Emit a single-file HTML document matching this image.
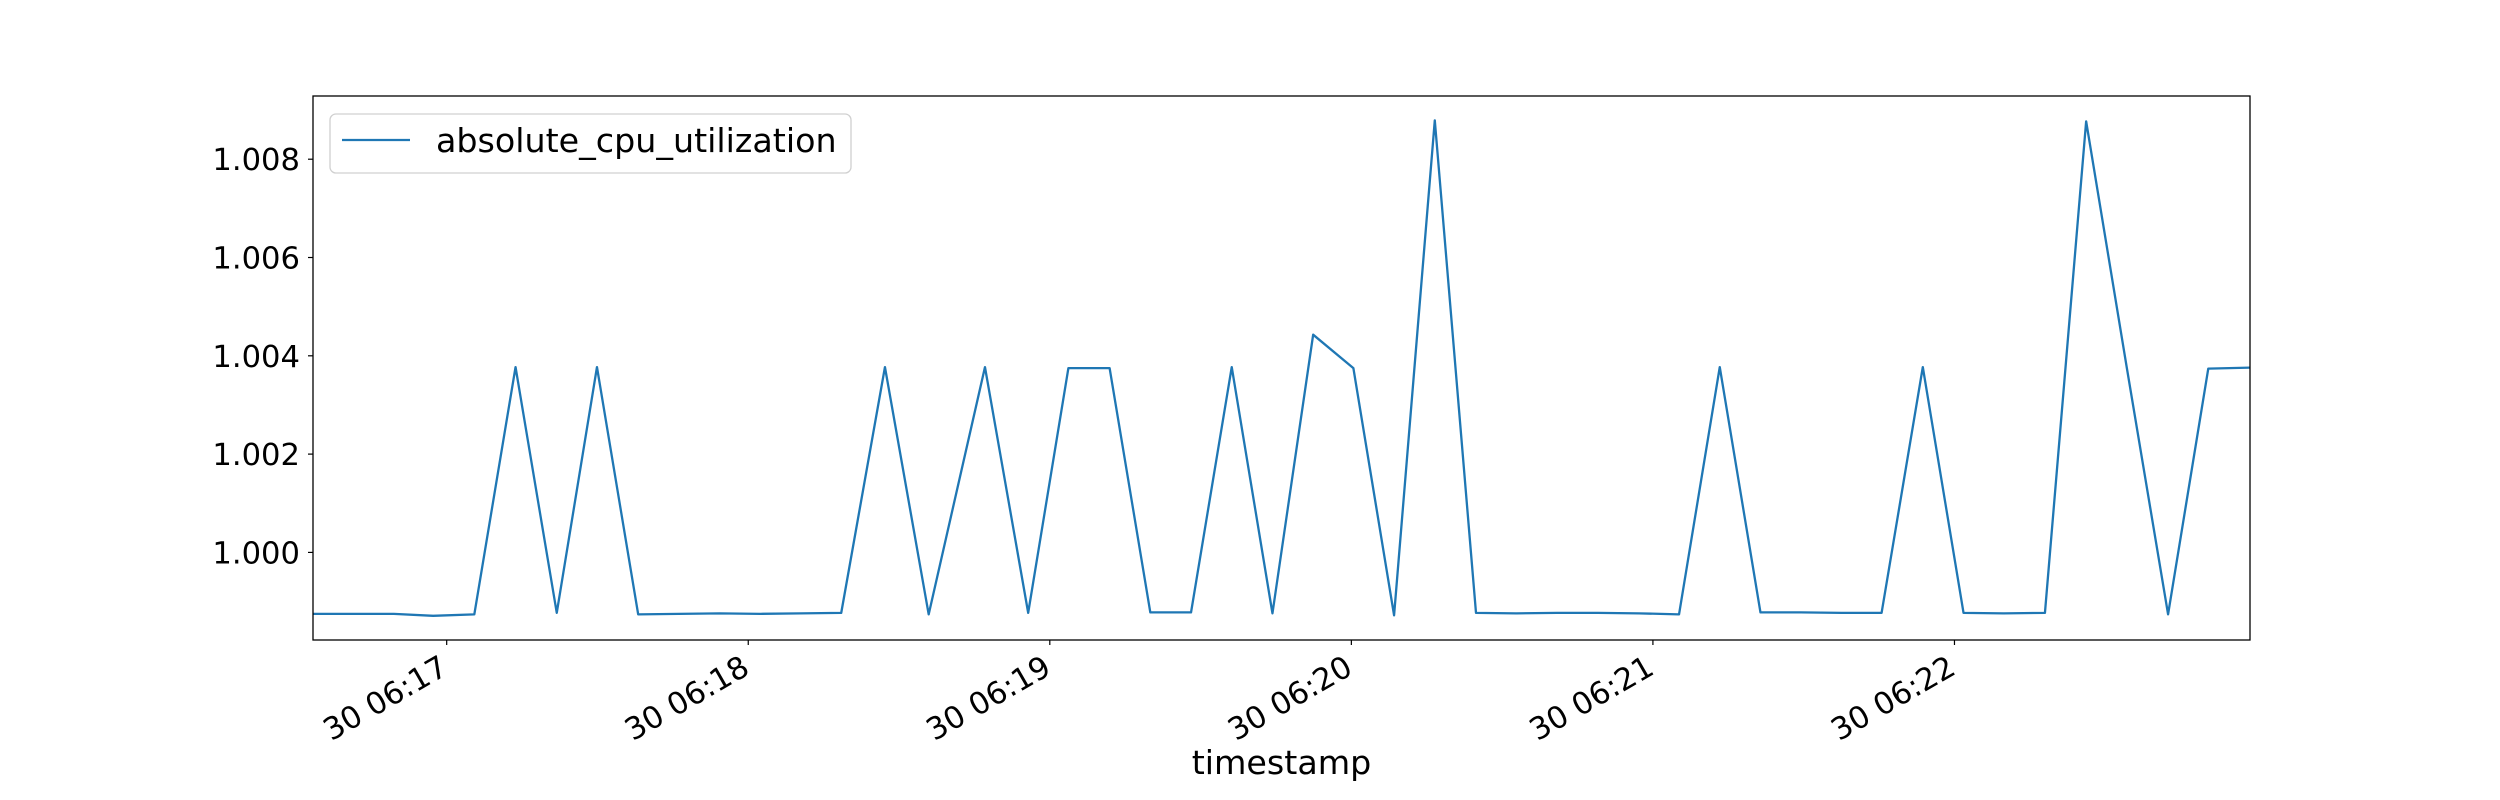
<!DOCTYPE html>
<html><head><meta charset="utf-8"><style>
html,body{margin:0;padding:0;background:#fff}
svg{display:block}
text{font-family:"DejaVu Sans","Liberation Sans",sans-serif;fill:#000}
</style></head><body>
<svg width="2500" height="800" viewBox="0 0 2500 800">
<rect x="0" y="0" width="2500" height="800" fill="#fff"/>
<g id="plot"></g>
</svg>
<script>
// seconds after 06:16:00
const timesSec = [33.4,41.4,49.5,57.3,65.5,73.7,81.9,89.9,98.1,106.1,114.3,122.4,130.4,138.5,147.2,155.9,167.1,175.7,183.7,191.9,200.0,208.1,216.2,224.3,232.4,240.4,248.5,256.6,264.8,272.8,280.9,289.1,297.2,305.2,313.3,321.4,329.4,337.6,345.5,353.7,361.8,369.8,378.0,386.2,394.3,402.5,410.5,418.8];
const cpuValues = [0.99875,0.99875,0.99875,0.99871,0.99874,1.00377,0.99877,1.00377,0.99874,0.99875,0.99876,0.99875,0.99876,0.99877,1.00377,0.99874,1.00377,0.99877,1.00375,1.00375,0.99878,0.99878,1.00377,0.99876,1.00443,1.00375,0.99872,1.00879,0.99877,0.99876,0.99877,0.99877,0.99876,0.99874,1.00377,0.99878,0.99878,0.99877,0.99877,1.00377,0.99877,0.99876,0.99877,1.00877,1.00375,0.99874,1.00374,1.00376];
const yTickValues = [1.000,1.002,1.004,1.006,1.008];
const yTickLabels = ["1.000","1.002","1.004","1.006","1.008"];
const xTickSec = [60,120,180,240,300,360];
const xTickLabels = ["30 06:17","30 06:18","30 06:19","30 06:20","30 06:21","30 06:22"];

const NS="http://www.w3.org/2000/svg";
const L=313,R=2250,T=96,B=640;
const xMin=timesSec[0], xMax=timesSec[timesSec.length-1];
const yMin=0.998218, yMax=1.009286;
const xs=v=>L+(v-xMin)/(xMax-xMin)*(R-L);
const ys=v=>B-(v-yMin)/(yMax-yMin)*(B-T);
const g=document.getElementById('plot');
function mk(tag,attrs,parent){const e=document.createElementNS(NS,tag);for(const k in attrs)e.setAttribute(k,attrs[k]);(parent||g).appendChild(e);return e;}

// line
const pts=timesSec.map((t,i)=>xs(t).toFixed(2)+","+ys(cpuValues[i]).toFixed(2)).join(" ");
const clip=mk('clipPath',{id:'pc'});mk('rect',{x:L,y:T,width:R-L,height:B-T},clip);
const line=mk('polyline',{points:pts,fill:'none',stroke:'#1f77b4','stroke-width':2.3,'stroke-linejoin':'round','clip-path':'url(#pc)'});



// y ticks
yTickValues.forEach((v,i)=>{
  const y=ys(v);
  const tk=mk('line',{x1:L-5,x2:L,y1:y,y2:y,stroke:'#000','stroke-width':1.2});
  
  
  const tx=mk('text',{x:L-13,y:y+11,'text-anchor':'end','font-size':30.6});
  tx.textContent=yTickLabels[i];
  
  
});
// x ticks
xTickSec.forEach((v,i)=>{
  const x=xs(v);
  const tk=mk('line',{x1:x,x2:x,y1:B,y2:B+5,stroke:'#000','stroke-width':1.2});
  
  
  const tx=mk('text',{transform:`translate(${x+3},${B+33}) rotate(-30)`,'text-anchor':'end','font-size':30.6});
  tx.textContent=xTickLabels[i];
  
  
});
// frame
const fr=mk('rect',{x:L,y:T,width:R-L,height:B-T,fill:'none',stroke:'#000','stroke-width':1.3});


// x label
const xl=mk('text',{x:(L+R)/2,y:774,'text-anchor':'middle','font-size':33.3});
xl.textContent='timestamp';


// legend
const lg=mk('g',{});


mk('rect',{x:330,y:114,width:521,height:59,rx:6,fill:'#fff','fill-opacity':0.8,stroke:'#d0d0d0','stroke-width':1.3},lg);
mk('line',{x1:342,x2:410,y1:140,y2:140,stroke:'#1f77b4','stroke-width':2.3},lg);
const lt=mk('text',{x:436,y:152,'font-size':33.3},lg);
lt.textContent='absolute_cpu_utilization';


</script>
</body></html>
